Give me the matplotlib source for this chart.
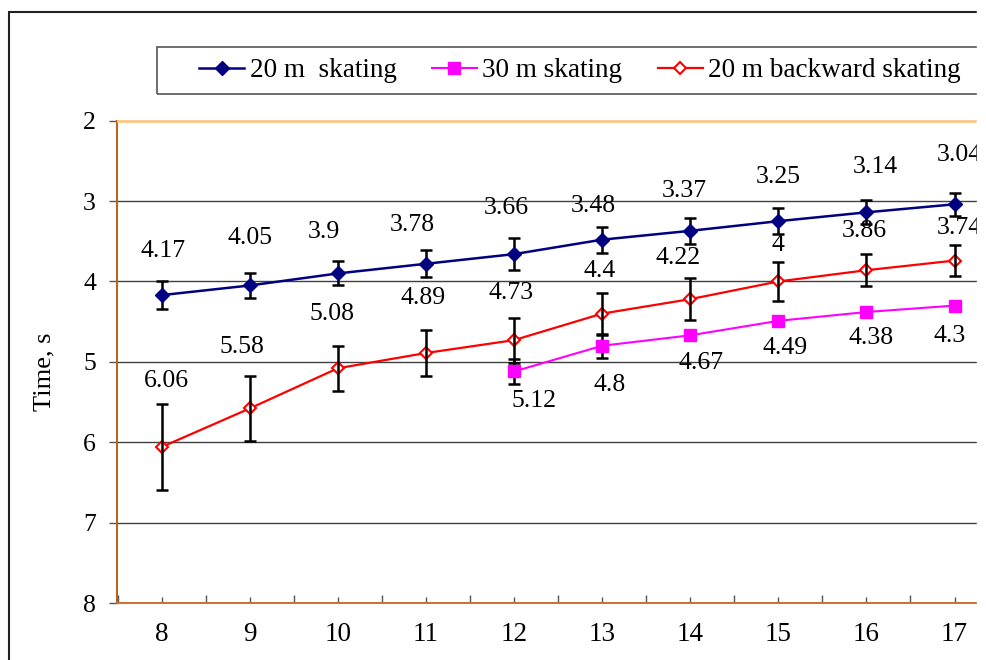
import numpy as np
import matplotlib
matplotlib.use("Agg")
import matplotlib.pyplot as plt
from matplotlib.patches import Rectangle

plt.rcParams['font.family'] = ['Liberation Serif', 'DejaVu Serif']

# ages (years) on the category axis
ages = [8, 9, 10, 11, 12, 13, 14, 15, 16, 17]
ages_30m = [12, 13, 14, 15, 16, 17]

# mean times, s
skate20 = [4.17, 4.05, 3.9, 3.78, 3.66, 3.48, 3.37, 3.25, 3.14, 3.04]
skate30 = [5.12, 4.8, 4.67, 4.49, 4.38, 4.3]
back20 = [6.06, 5.58, 5.08, 4.89, 4.73, 4.4, 4.22, 4.0, 3.86, 3.74]

# error bar half widths, nan = no bar shown
skate20_err = [0.17, 0.16, 0.15, 0.17, 0.20, 0.16, 0.16, 0.16, 0.15, 0.14]
skate30_err = [0.16, 0.15, np.nan, np.nan, np.nan, np.nan]
back20_err = [0.53, 0.41, 0.28, 0.29, 0.28, 0.26, 0.26, 0.24, 0.20, 0.19]

labels = ['20 m  skating', '30 m skating', '20 m backward skating']

# data label offsets in pixels (dx, dy), dy positive = up
off20 = [(2, 44), (0, 47), (-14, 41), (-14, 39), (-8, 46), (-9, 34), (-6, 40), (0, 44), (9, 45), (5, 49)]
off30 = [(20, -30), (8, -39), (11, -28), (7, -27), (5, -26), (-5, -30)]
offback = [(5, 66), (-8, 61), (-6, 54), (-3, 55), (-3, 47), (-2, 43), (-12, 41), (0, 36), (-2, 39), (5, 33)]

W, H = 987, 660
fig = plt.figure(figsize=(W / 100, H / 100), dpi=100)
ax = fig.add_axes([117.5 / W, 1 - 603 / H, (998.6 - 117.5) / W, (603 - 120.7) / H])

l1, = ax.plot(ages, skate20, color='#000080', lw=1.8, marker='D', ms=6.8, zorder=4)
l2, = ax.plot(ages_30m, skate30, color='#FF00FF', lw=1.5, marker='s', ms=8.2, zorder=4)
l3, = ax.plot(ages, back20, color='#FF0000', lw=1.6, marker='D', ms=6,
              mfc='white', mec='#FF0000', mew=1.5, zorder=2)

for xs, ys, es in [(ages, skate20, skate20_err), (ages_30m, skate30, skate30_err), (ages, back20, back20_err)]:
    xs = np.array(xs); ys = np.array(ys); es = np.array(es)
    m = np.isfinite(es)
    ax.errorbar(xs[m], ys[m], yerr=es[m], fmt='none', ecolor='black', elinewidth=1.8,
                capsize=4, capthick=1.8, zorder=3)

for xs, ys, offs in [(ages, skate20, off20), (ages_30m, skate30, off30), (ages, back20, offback)]:
    for x, y, (dx, dy) in zip(xs, ys, offs):
        ax.annotate(f'{y:g}', (x, y), xytext=(dx, dy), textcoords='offset pixels',
                    ha='center', va='center', fontsize=18.5, zorder=5)

ax.set_xlim(7.5, 17.5)
ax.set_ylim(8, 2)
ax.set_yticks(range(2, 9))
ax.set_xticks(ages)
ax.set_xticks(np.arange(7.5, 17.6, 1), minor=True)
ax.tick_params(axis='x', which='major', direction='in', length=4.3, width=1, color='#555555',
               labelsize=19.5, pad=14)
ax.tick_params(axis='x', which='minor', direction='in', length=5.8, width=1, color='#555555')
ax.tick_params(axis='y', direction='out', length=5.5, width=1, color='#555555', labelsize=18.5, pad=10)

for v in range(3, 8):
    ax.axhline(v, color='#404040', lw=1, zorder=1)

ax.spines['top'].set_color('#FFC68A')
ax.spines['top'].set_linewidth(2)
ax.spines['left'].set_color('#B5651D')
ax.spines['left'].set_linewidth(1.5)
ax.spines['bottom'].set_color('#C87533')
ax.spines['bottom'].set_linewidth(1.5)
ax.spines['right'].set_visible(False)

ax.set_ylabel('Time, s', fontsize=19)
ax.yaxis.set_label_coords(-(117.5 - 55) / (998.6 - 117.5), 0.48)

fig.legend([l1, l2, l3], labels, loc='center', bbox_to_anchor=(580 / W, 1 - 70.5 / H), ncol=3,
           frameon=False, fontsize=19.5, handlelength=1.67, handletextpad=0.2, columnspacing=1.3)

# legend box and outer chart border
fig.add_artist(Rectangle((157 / W, 1 - 94 / H), (1010 - 157) / W, 47 / H, transform=fig.transFigure,
                         fill=False, edgecolor='#555555', lw=1.2))
fig.add_artist(Rectangle((9 / W, -0.1), 1.2, 1 - 12 / H + 0.1, transform=fig.transFigure,
                         fill=False, edgecolor='#222222', lw=1.5))
# picture is cut off at the right side
fig.add_artist(Rectangle((977 / W, 0), 1, 1, transform=fig.transFigure, color='white', zorder=50))

fig.savefig('out.png', dpi=100)
